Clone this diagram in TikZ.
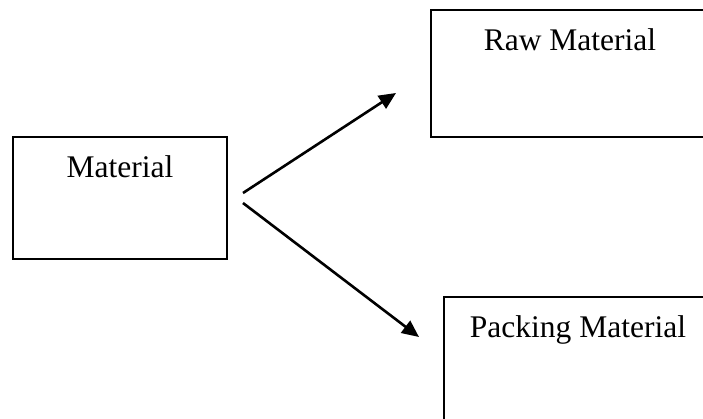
\documentclass[tikz,border=0pt]{standalone}
\usepackage{fontspec}
\setmainfont{Liberation Serif}
\usetikzlibrary{arrows.meta}
\usetikzlibrary{positioning}

\begin{document}
\begin{tikzpicture}[x=1pt,y=-1pt]
          \useasboundingbox (0,0) rectangle (703,418);
          \clip (0,0) rectangle (703,418);
          \begin{scope}[every node/.style={rectangle,draw,line width=1.8pt,inner sep=0pt}]
            \node[minimum width=214pt,minimum height=122pt] (mat) at (120,198) {};
            \node[minimum width=300pt,minimum height=127pt] (raw) at (581,73.5) {};
            \node[minimum width=290pt,minimum height=140pt] (pack) at (589,367) {};
          \end{scope}
          \begin{scope}[every node/.style={anchor=base,font=\fontsize{31.5}{36}\selectfont}]
            \node (mattext) at (120,177) {Material};
            \node (rawtext) at (570,50) {Raw Material};
            \node (packtext) at (578,337) {Packing Material};
          \end{scope}
          \coordinate (up0) at (243,193);
          \coordinate (up1) at (396,93);
          \coordinate (dn0) at (243,203);
          \coordinate (dn1) at (419,337);
          \begin{scope}[every edge/.style={draw=black,line width=2.6pt,-{Triangle[length=17pt,width=15pt]}}]
            \path (up0) edge (up1);
            \path (dn0) edge (dn1);
          \end{scope}
        \end{tikzpicture}
\end{document}
